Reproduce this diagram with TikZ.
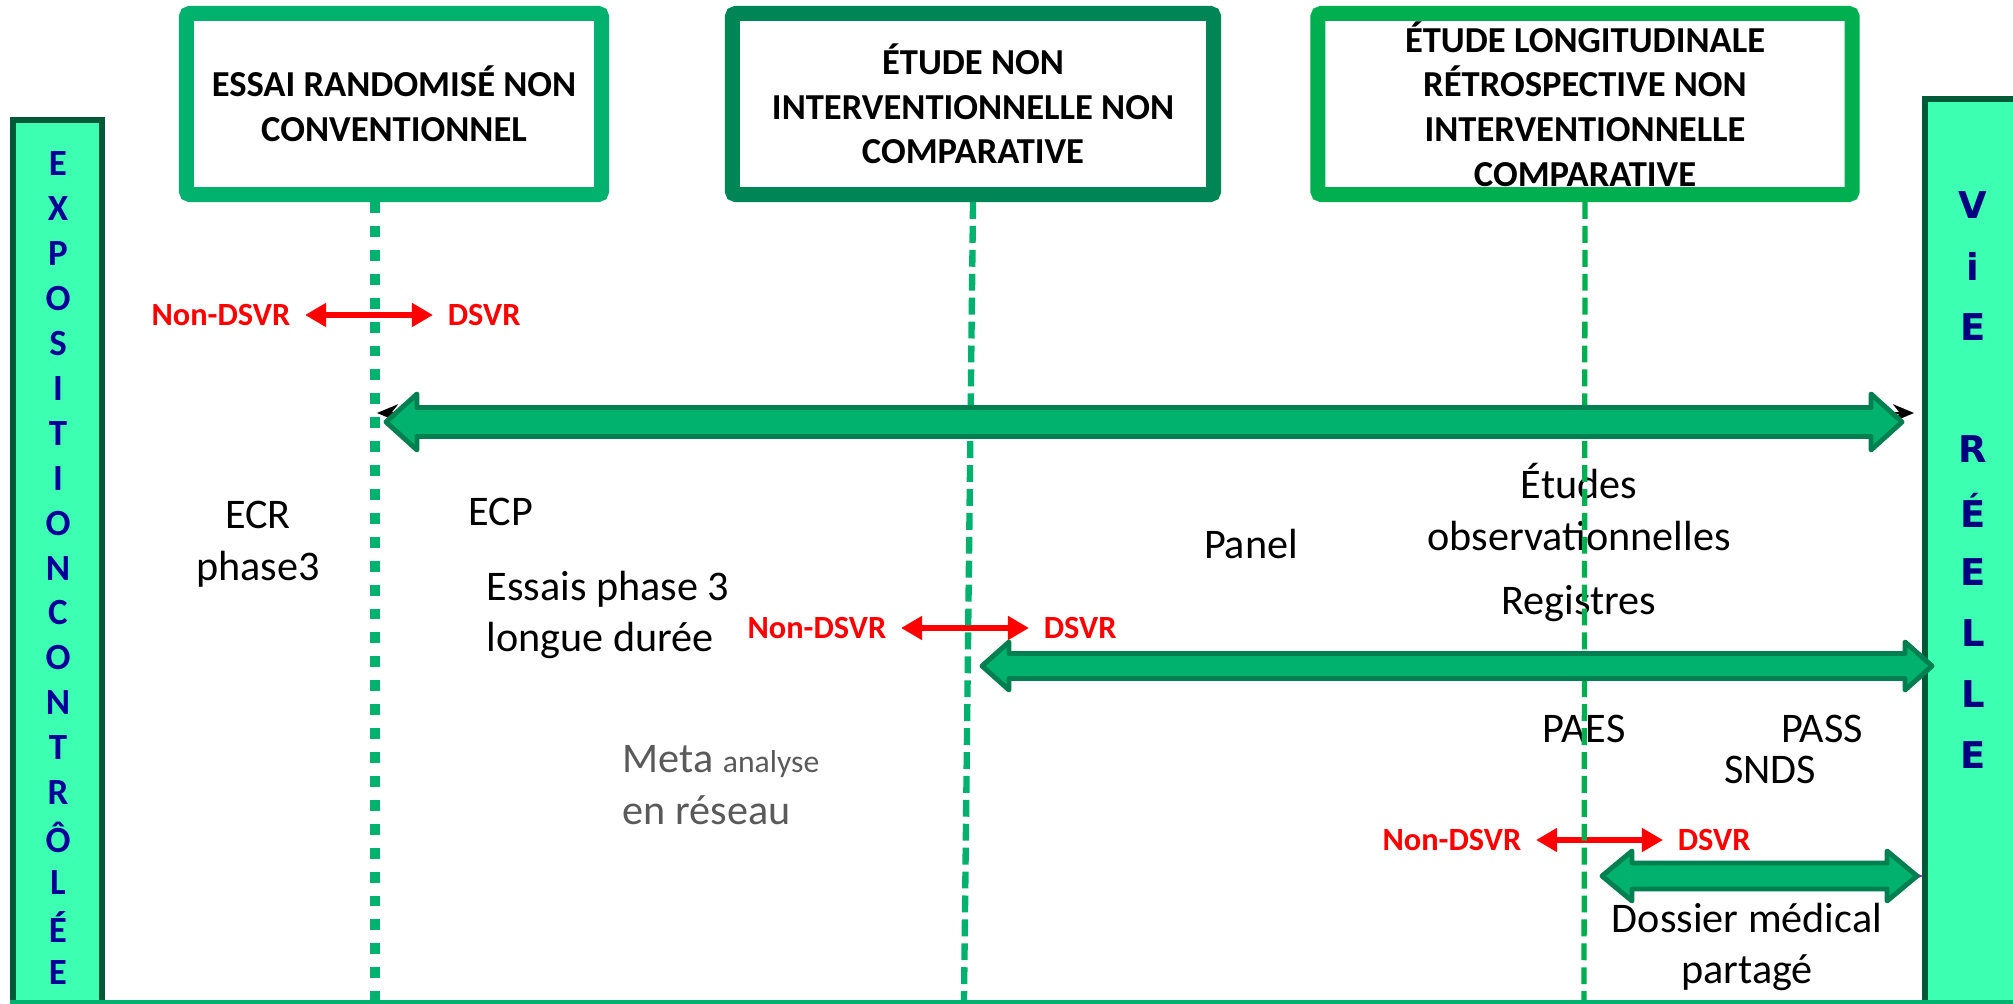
\documentclass[tikz,border=0pt]{standalone}
\usepackage{fontspec}
\setmainfont{Carlito}
\newfontfamily\barfont{DejaVu Sans}
\usetikzlibrary{arrows.meta,calc}

\definecolor{boxone}{HTML}{00B26E}
\definecolor{boxtwo}{HTML}{008656}
\definecolor{boxthree}{HTML}{00B050}
\definecolor{barfill}{HTML}{3CFFB2}
\definecolor{barline}{HTML}{005A37}
\definecolor{arrfill}{HTML}{00B26E}
\definecolor{arrline}{HTML}{008050}
\definecolor{navy}{HTML}{000099}
\definecolor{rbarblue}{HTML}{000080}
\definecolor{metagrey}{HTML}{5A5A5A}
\definecolor{purp}{HTML}{7030A0}

\newcommand{\dblarrow}[5]{%
  \filldraw[bigarrow] (#1) -- ($(#1)+(#5,-#4)$) -- ($(#1)+(#5,-#3)$) -- ($(#2)+(-#5,-#3)$) -- ($(#2)+(-#5,-#4)$) -- (#2)
    -- ($(#2)+(-#5,#4)$) -- ($(#2)+(-#5,#3)$) -- ($(#1)+(#5,#3)$) -- ($(#1)+(#5,#4)$) -- cycle;}

\begin{document}
\begin{tikzpicture}[x=0.01cm, y=-0.01cm,
    bar/.style={draw=barline, fill=barfill, line width=1.7pt},
    header/.style={draw, fill=white, line width=4.27pt, rounded corners=1pt, inner sep=0pt, align=center,
        font=\fontsize{10.4}{12.7}\selectfont\bfseries},
    lbar/.style={text=navy, inner sep=0pt, font=\fontsize{10.5}{12}\selectfont\bfseries},
    rbar/.style={text=rbarblue, inner sep=0pt, font=\barfont\bfseries\fontsize{10.5}{12}\selectfont},
    txt/.style={inner sep=0pt, align=center, font=\fontsize{12}{14.7}\selectfont},
    redlbl/.style={text=red, inner sep=4pt, font=\fontsize{9.2}{11}\selectfont\bfseries},
    redarrow/.style={red, line width=1.5pt, {Triangle[length=6pt,width=6.5pt]}-{Triangle[length=6pt,width=6.5pt]}},
    thinarrow/.style={line width=0.6pt, {Stealth[length=6pt,width=5pt]}-{Stealth[length=6pt,width=5pt]}},
    bigarrow/.style={fill=arrfill, draw=arrline, line width=1.4pt, line join=round},
    dotline/.style={boxone, line width=3.1pt, dash pattern=on 3.1pt off 3.7pt},
    dashline/.style={line width=1.8pt, dash pattern=on 4.8pt off 2pt}]
        \useasboundingbox (0,0) rectangle (2013,1004);
        \fill[white] (0,0) rectangle (2013,1004);

        \draw[bar] (13,120) rectangle (102,1012);
        \draw[bar] (1925,99) rectangle (2040,1012);
        \foreach \l [count=\i from 0] in {E,X,P,O,S,I,T,I,O,N,C,O,N,T,R,Ô,L,É,E}
            \node[lbar] (lb\i) at (58,164+44.9*\i) {\l};
        \foreach \l [count=\i from 0] in {V,i,E,{},R,É,E,L,L,E}
            \node[rbar] (rb\i) at (1973,205+61.1*\i) {\l};

        \node[header, draw=boxone, minimum width=4.15cm, minimum height=1.81cm] (hdr1) at (394,104)
            {ESSAI RANDOMISÉ NON\\CONVENTIONNEL};
        \node[header, draw=boxtwo, minimum width=4.81cm, minimum height=1.81cm] (hdr2) at (973,104)
            {ÉTUDE NON\\INTERVENTIONNELLE NON\\COMPARATIVE};
        \node[header, draw=boxthree, minimum width=5.34cm, minimum height=1.81cm] (hdr3) at (1585,104)
            {ÉTUDE LONGITUDINALE\\RÉTROSPECTIVE NON\\INTERVENTIONNELLE\\COMPARATIVE};

        \node[redlbl, anchor=east] (nd1) at (305,315) {Non-DSVR};
        \node[redlbl, anchor=west] (d1) at (433,315) {DSVR};
        \draw[redarrow] (nd1) -- (d1);
        \node[redlbl, anchor=east] (nd2) at (901,628) {Non-DSVR};
        \node[redlbl, anchor=west] (d2) at (1029,628) {DSVR};
        \draw[redarrow] (nd2) -- (d2);
        \node[redlbl, anchor=east] (nd3) at (1536,840) {Non-DSVR};
        \node[redlbl, anchor=west] (d3) at (1663,840) {DSVR};
        \draw[redarrow] (nd3) -- (d3);

        \node[txt] (ecr) at (258,544) {ECR\\phase3};
        \node[txt] (ecp) at (501,512) {ECP};
        \node[txt, align=left, anchor=west] (essais) at (486,615) {Essais phase 3\\longue durée};
        \node[txt, align=left, anchor=west, text=metagrey] (meta) at (622,785)
            {Meta {\fontsize{9}{11}\selectfont analyse}\\en réseau};
        \node[txt] (panel) at (1251,544) {Panel};
        \node[txt] (etudes) at (1579,507) {Études\\observationnelles};
        \node[txt] (registres) at (1579,604) {Registres};
        \node[txt] (paes) at (1584,729) {PAES};
        \node[txt] (pass) at (1822,729) {PASS};
        \node[txt] (snds) at (1770,770) {SNDS};
        \node[txt] (dossier) at (1747,947) {Dossier médical\\partagé};

        \coordinate (bot1) at (375,1000);
        \coordinate (bot2) at (964,1000);
        \coordinate (bot3) at (1584,1000);
        \draw[dotline] (hdr1.south -| bot1) -- (bot1);
        \draw[dashline, boxone] (hdr2.south) -- (bot2);
        \draw[dashline, boxthree, line width=1.5pt] (hdr3.south) -- (bot3);

        \coordinate (kL) at (377,413);
        \coordinate (kR) at (1914,413);
        \draw[thinarrow, black] (kL) -- (kR);
        \coordinate (pL) at (1636,876);
        \coordinate (pR) at (1923,876);
        \draw[thinarrow, purp] (pL) -- (pR);

        \coordinate (aL) at (386,422);
        \coordinate (aR) at (1902,422);
        \dblarrow{aL}{aR}{14.5}{28}{31}
        \coordinate (bL) at (982,666);
        \coordinate (bR) at (1932,666);
        \dblarrow{bL}{bR}{12.5}{24}{27}
        \coordinate (cL) at (1602,876);
        \coordinate (cR) at (1917,876);
        \dblarrow{cL}{cR}{13}{25}{30}

        \coordinate (bl) at (10,1002);
        \coordinate (br) at (2013,1002);
        \draw[boxone, line width=1.1pt] (bl) -- (br);
\end{tikzpicture}
\end{document}
